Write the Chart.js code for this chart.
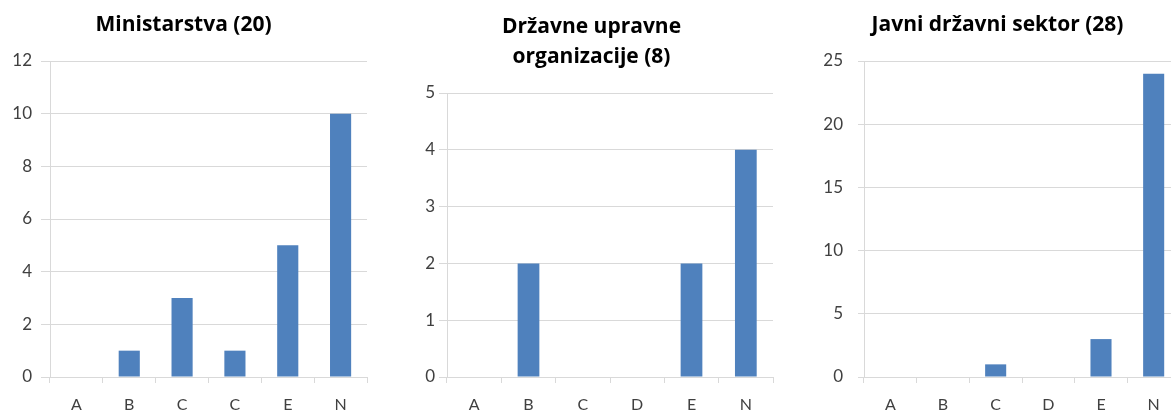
<!DOCTYPE html>
<html>
<head>
<meta charset="utf-8">
<script src="https://cdn.jsdelivr.net/npm/chart.js@4"></script>
<style>
  html, body { margin: 0; padding: 0; background: #fff; overflow: hidden; }
  body { width: 1171px; height: 412px; position: relative; }
  .box { position: absolute; top: 0; height: 412px; }
</style>
</head>
<body>
<div class="box" style="left:0px;width:380px;"><canvas id="chart1"></canvas></div>
<div class="box" style="left:410px;width:374px;"><canvas id="chart2"></canvas></div>
<div class="box" style="left:815px;width:378px;"><canvas id="chart3"></canvas></div>
<script>
// データ
const labels1 = ["A", "B", "C", "C", "E", "N"];
const values1 = [0, 1, 3, 1, 5, 10];
const title1 = "Ministarstva (20)";

const labels2 = ["A", "B", "C", "D", "E", "N"];
const values2 = [0, 2, 0, 0, 2, 4];
const title2 = ["Državne upravne", "organizacije (8)"];

const labels3 = ["A", "B", "C", "D", "E", "N"];
const values3 = [0, 0, 1, 0, 3, 24];
const title3 = "Javni državni sektor (28)";

const barColor = "#4F81BD";
const gridColor = "#D9D9D9";
const textColor = "#404040";
const fontFamily = "Lato, 'Open Sans', sans-serif";
const titleFamily = "'Open Sans', Lato, sans-serif";

// 棒グラフを描画
function drawBarChart(id, labels, values, title, cfg) {
  const ctx = document.getElementById(id);
  return new Chart(ctx, {
    type: "bar",
    data: {
      labels: labels,
      datasets: [
        {
          data: values,
          backgroundColor: barColor,
          borderWidth: 0,
          barPercentage: 0.4,
          categoryPercentage: 1,
        },
      ],
    },
    options: {
      responsive: true,
      maintainAspectRatio: false,
      animation: false,
      layout: {
        padding: { top: 0, right: cfg.padRight, bottom: 0, left: 0 },
      },
      plugins: {
        legend: { display: false },
        tooltip: { enabled: false },
        title: {
          display: true,
          text: title,
          color: "#000",
          font: { family: titleFamily, size: 21, weight: "bold", lineHeight: cfg.titleLine },
          padding: { top: cfg.titleTop, bottom: cfg.titleBottom },
        },
      },
      scales: {
        x: {
          offset: true,
          grid: {
            offset: true,
            drawOnChartArea: false,
            color: gridColor,
            tickLength: 6,
          },
          border: { color: gridColor },
          ticks: {
            color: textColor,
            font: { family: fontFamily, size: 16 },
            padding: 12,
          },
          afterFit: (scale) => { scale.height = 35; },
        },
        y: {
          min: 0,
          max: cfg.max,
          grid: { color: gridColor, tickLength: cfg.tickLen },
          border: { color: gridColor },
          ticks: {
            stepSize: cfg.step,
            color: textColor,
            font: { family: fontFamily, size: 17 },
            padding: cfg.tickPad,
          },
          afterFit: (scale) => { scale.width = cfg.yWidth; },
        },
      },
    },
  });
}

drawBarChart("chart1", labels1, values1, title1, {
  max: 12, step: 2, yWidth: 50, padRight: 13, tickLen: 9, tickPad: 9,
  titleTop: 12.4, titleBottom: 23.4, titleLine: 1.2,
});
drawBarChart("chart2", labels2, values2, title2, {
  max: 5, step: 1, yWidth: 37, padRight: 11, tickLen: 8, tickPad: 4,
  titleTop: 12, titleBottom: 21, titleLine: 30 / 21,
});
drawBarChart("chart3", labels3, values3, title3, {
  max: 25, step: 5, yWidth: 49, padRight: 13, tickLen: 6, tickPad: 15,
  titleTop: 12.4, titleBottom: 23.4, titleLine: 1.2,
});
</script>
</body>
</html>
